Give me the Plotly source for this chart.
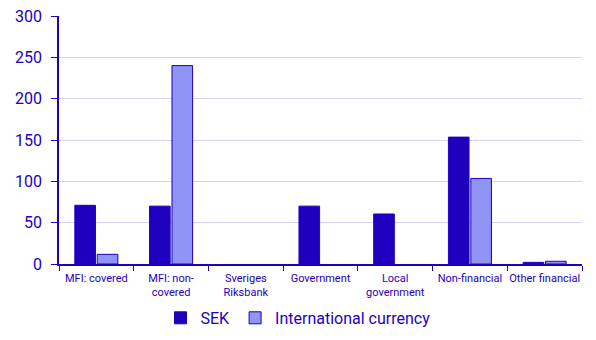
import plotly.graph_objects as go

# Sectors on the x axis
categories = [
    "MFI: covered",
    "MFI: non-<br>covered",
    "Sveriges<br>Riksbank",
    "Government",
    "Local<br>government",
    "Non-financial",
    "Other financial",
]

# Amounts per sector, by currency
sek_values = [71, 70, 0, 70, 60.5, 153.5, 2]
intl_values = [11.7, 240, 0, 0, 0, 103.5, 3.3]

y_ticks = [0, 50, 100, 150, 200, 250, 300]

DARK = "#1e00be"
LIGHT = "#8f94f5"
GRID = "#d5d1f0"
FONT = "Roboto"


def outline_widths(values):
    # no outline on empty bars so they vanish into the axis
    return [1 if v > 0 else 0 for v in values]


fig = go.Figure()
fig.add_trace(go.Bar(
    name="SEK", x=categories, y=sek_values,
    marker=dict(color=DARK, line=dict(color=DARK, width=outline_widths(sek_values))),
))
fig.add_trace(go.Bar(
    name="International currency", x=categories, y=intl_values,
    marker=dict(color=LIGHT, line=dict(color=DARK, width=outline_widths(intl_values))),
))

fig.update_layout(
    width=596, height=340,
    margin=dict(l=59, r=14, t=16, b=76, autoexpand=False),
    paper_bgcolor="white", plot_bgcolor="white",
    barmode="group", bargap=0.4, bargroupgap=0.08,
    font=dict(family=FONT, color=DARK),
    legend=dict(
        orientation="h", xref="container", yref="container",
        x=0.5, xanchor="center", y=0.065, yanchor="middle",
        font=dict(size=16, color=DARK), itemwidth=30,
    ),
)
fig.update_xaxes(
    type="category", tickson="boundaries", tickangle=0, automargin=False,
    showline=True, linecolor=DARK, linewidth=1.5,
    ticks="outside", ticklen=5, tickcolor=DARK, tickwidth=1,
    tickfont=dict(size=11, color=DARK), ticklabelstandoff=3, showgrid=False,
)
fig.update_yaxes(
    range=[0, 300], tickvals=y_ticks, automargin=False,
    showline=True, linecolor=DARK, linewidth=1.5,
    ticks="outside", ticklen=6, tickcolor=DARK, tickwidth=1,
    tickfont=dict(size=16, color=DARK), ticklabelstandoff=6,
    showgrid=True, gridcolor=GRID, gridwidth=1, zeroline=False,
)

fig.write_html("out.html")
